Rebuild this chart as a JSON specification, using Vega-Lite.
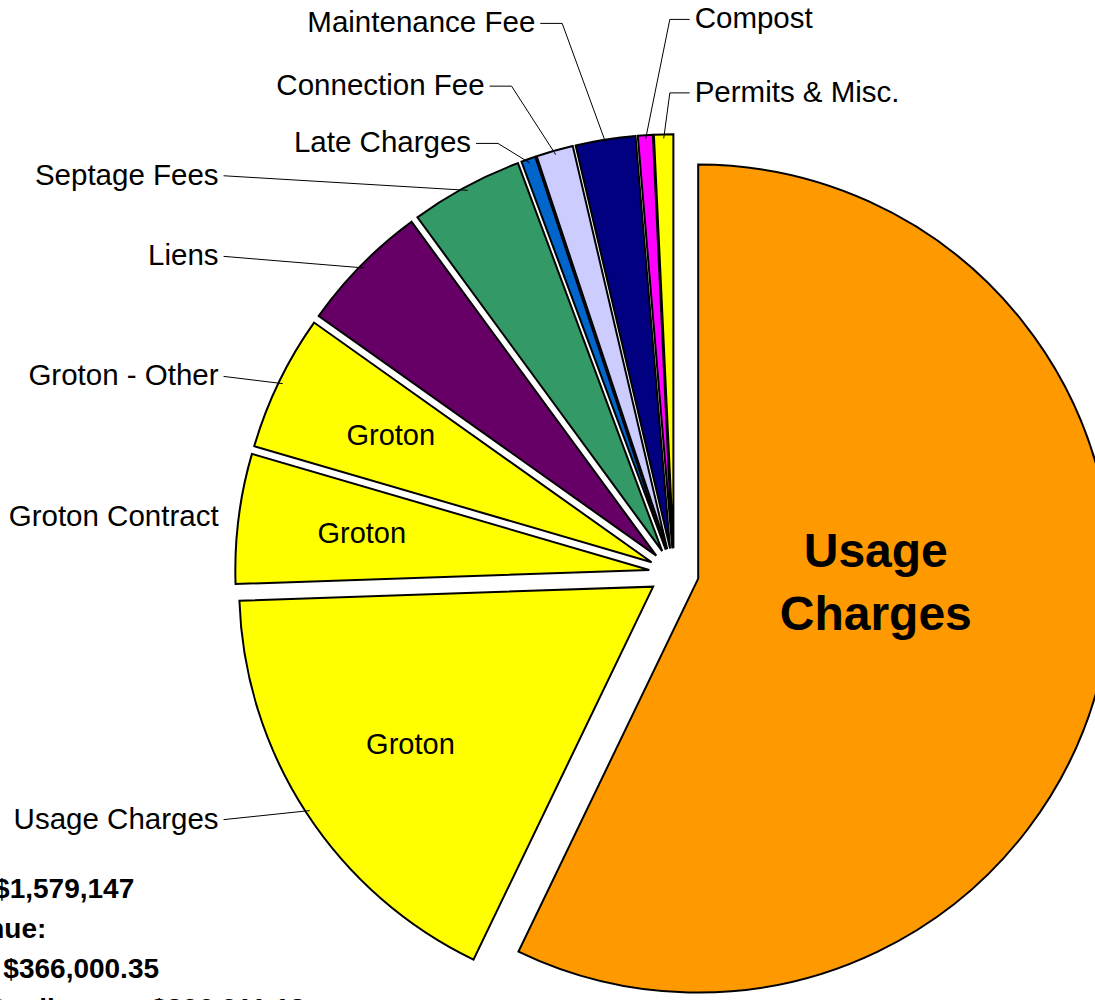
{
  "$schema": "https://vega.github.io/schema/vega-lite/v6.json",
  "width": 1095,
  "height": 1000,
  "autosize": {"type": "none"},
  "padding": 0,
  "config": {"font": "Liberation Sans", "view": {"stroke": null}},
  "title": {
    "text": ["Total revenue: $1,579,147", "Groton's Revenue:", "Total Groton:\u00a0\u00a0\u00a0\u00a0$366,000.35", "Total Groton after liens:\u00a0\u00a0\u00a0\u00a0\u00a0$306,011.13"],
    "orient": "bottom",
    "anchor": "start",
    "frame": "group",
    "offset": -102,
    "dx": -203,
    "baseline": "alphabetic",
    "fontSize": 28,
    "fontWeight": "bold",
    "lineHeight": 40,
    "color": "black",
    "font": "Liberation Sans"
  },
  "data": {
    "values": [
      {"category": "Usage Charges", "inner": "Usage Charges", "share": 57.1},
      {"category": "Groton Usage Charges", "label": "Usage Charges", "inner": "Groton", "share": 17.3},
      {"category": "Groton Contract", "label": "Groton Contract", "inner": "Groton", "share": 5.06},
      {"category": "Groton - Other", "label": "Groton - Other", "inner": "Groton", "share": 5.3},
      {"category": "Liens", "label": "Liens", "share": 5.1},
      {"category": "Septage Fees", "label": "Septage Fees", "share": 4.4},
      {"category": "Late Charges", "label": "Late Charges", "share": 0.56},
      {"category": "Connection Fee", "label": "Connection Fee", "share": 1.44},
      {"category": "Maintenance Fee", "label": "Maintenance Fee", "share": 2.33},
      {"category": "Compost", "label": "Compost", "share": 0.58},
      {"category": "Permits & Misc.", "label": "Permits & Misc.", "share": 0.75}
    ]
  },
  "transform": [
    {"window": [{"op": "sum", "field": "share", "as": "cum"}], "frame": [null, 0], "ignorePeers": true},
    {"joinaggregate": [{"op": "sum", "field": "share", "as": "total"}]},
    {"calculate": "2*PI*(datum.cum - datum.share)/datum.total", "as": "a0"},
    {"calculate": "2*PI*datum.cum/datum.total", "as": "a1"},
    {"calculate": "(datum.a0 + datum.a1)/2", "as": "m"},
    {"calculate": "datum.m*180/PI", "as": "mdeg"},
    {"calculate": "datum.mdeg < 180 ? 'I' : datum.mdeg < 335 ? 'L' : datum.mdeg < 355 ? 'T' : 'R'", "as": "zone"},
    {"calculate": "0.06*sin(datum.m)", "as": "ex"},
    {"calculate": "0.06*cos(datum.m)", "as": "ey"},
    {"window": [{"op": "row_number", "as": "rn"}], "groupby": ["zone"], "sort": [{"field": "m", "order": "ascending"}]},
    {"joinaggregate": [{"op": "count", "as": "zc"}], "groupby": ["zone"]},
    {"calculate": "datum.zone == 'T' ? datum.rn - 1 : datum.zone == 'R' ? datum.zc - datum.rn : 0", "as": "k"},
    {"calculate": "datum.zone == 'T' ? 1.1 + 0.122*datum.k : datum.zone == 'R' ? 1.16 + 0.18*datum.k : 1.09", "as": "rl"},
    {"calculate": "datum.rl*cos(datum.m)", "as": "ty"},
    {"calculate": "datum.zone == 'L' ? -1.1 : datum.zone == 'T' ? datum.rl*sin(datum.m) - 0.125 : 0.05", "as": "tx"},
    {"calculate": "datum.zone == 'R' ? datum.tx - 0.012 : datum.tx + 0.012", "as": "p0x"},
    {"calculate": "datum.zone == 'L' ? datum.p0x : datum.zone == 'T' ? datum.tx + 0.065 : datum.tx - 0.06", "as": "p1x"},
    {"calculate": "1.05*sin(datum.m)", "as": "p2x"},
    {"calculate": "1.05*cos(datum.m)", "as": "p2y"},
    {"calculate": "sqrt(pow(datum.p2x - datum.p0x, 2) + pow(datum.p2y - datum.ty, 2))", "as": "len"},
    {"calculate": "datum.zone == 'I' ? 0.5 : 0.76", "as": "ir"},
    {"calculate": "datum.ir*sin(datum.m)", "as": "gx"},
    {"calculate": "datum.ir*cos(datum.m)", "as": "gy"}
  ],
  "layer": [
    {
      "mark": {"type": "arc", "outerRadius": 414, "stroke": "black", "strokeWidth": 2},
      "encoding": {
        "x": {"field": "ex", "type": "quantitative", "scale": {"domain": [-1.628, 1.017], "nice": false, "zero": false}, "axis": null},
        "y": {"field": "ey", "type": "quantitative", "scale": {"domain": [-1.031, 1.384], "nice": false, "zero": false}, "axis": null},
        "theta": {"field": "a0", "type": "quantitative", "scale": null, "stack": null},
        "theta2": {"field": "a1"},
        "color": {
          "field": "category",
          "type": "nominal",
          "scale": {
            "domain": ["Usage Charges", "Groton Usage Charges", "Groton Contract", "Groton - Other", "Liens", "Septage Fees", "Late Charges", "Connection Fee", "Maintenance Fee", "Compost", "Permits & Misc."],
            "range": ["#FF9900", "#FFFF00", "#FFFF00", "#FFFF00", "#660066", "#339966", "#0066CC", "#CCCCFF", "#000080", "#FF00FF", "#FFFF00"]
          },
          "legend": null
        }
      }
    },
    {
      "transform": [{"filter": "datum.label != null && datum.len > 0.08"}],
      "mark": {"type": "rule", "stroke": "black", "strokeWidth": 1},
      "encoding": {
        "x": {"field": "p0x", "type": "quantitative", "scale": {"domain": [-1.628, 1.017], "nice": false, "zero": false}, "axis": null},
        "y": {"field": "ty", "type": "quantitative", "scale": {"domain": [-1.031, 1.384], "nice": false, "zero": false}, "axis": null},
        "x2": {"field": "p1x"},
        "y2": {"field": "ty"}
      }
    },
    {
      "transform": [{"filter": "datum.label != null && datum.len > 0.08"}],
      "mark": {"type": "rule", "stroke": "black", "strokeWidth": 1},
      "encoding": {
        "x": {"field": "p1x", "type": "quantitative", "scale": {"domain": [-1.628, 1.017], "nice": false, "zero": false}, "axis": null},
        "y": {"field": "ty", "type": "quantitative", "scale": {"domain": [-1.031, 1.384], "nice": false, "zero": false}, "axis": null},
        "x2": {"field": "p2x"},
        "y2": {"field": "p2y"}
      }
    },
    {
      "transform": [{"filter": "datum.label != null && datum.zone != 'R'"}],
      "mark": {"type": "text", "align": "right", "baseline": "middle", "fontSize": 29.5, "color": "black"},
      "encoding": {
        "x": {"field": "tx", "type": "quantitative", "scale": {"domain": [-1.628, 1.017], "nice": false, "zero": false}, "axis": null},
        "y": {"field": "ty", "type": "quantitative", "scale": {"domain": [-1.031, 1.384], "nice": false, "zero": false}, "axis": null},
        "text": {"field": "label"}
      }
    },
    {
      "transform": [{"filter": "datum.label != null && datum.zone == 'R'"}],
      "mark": {"type": "text", "align": "left", "baseline": "middle", "fontSize": 29.5, "color": "black"},
      "encoding": {
        "x": {"field": "tx", "type": "quantitative", "scale": {"domain": [-1.628, 1.017], "nice": false, "zero": false}, "axis": null},
        "y": {"field": "ty", "type": "quantitative", "scale": {"domain": [-1.031, 1.384], "nice": false, "zero": false}, "axis": null},
        "text": {"field": "label"}
      }
    },
    {
      "transform": [{"filter": "datum.inner != null && datum.zone != 'I'"}],
      "mark": {"type": "text", "align": "center", "baseline": "middle", "fontSize": 29, "color": "black"},
      "encoding": {
        "x": {"field": "gx", "type": "quantitative", "scale": {"domain": [-1.628, 1.017], "nice": false, "zero": false}, "axis": null},
        "y": {"field": "gy", "type": "quantitative", "scale": {"domain": [-1.031, 1.384], "nice": false, "zero": false}, "axis": null},
        "text": {"field": "inner"}
      }
    },
    {
      "transform": [{"filter": "datum.inner != null && datum.zone == 'I'"}],
      "mark": {"type": "text", "align": "center", "baseline": "middle", "fontSize": 48, "fontWeight": "bold", "lineBreak": " ", "lineHeight": 63, "dy": -66, "color": "black"},
      "encoding": {
        "x": {"field": "gx", "type": "quantitative", "scale": {"domain": [-1.628, 1.017], "nice": false, "zero": false}, "axis": null},
        "y": {"field": "gy", "type": "quantitative", "scale": {"domain": [-1.031, 1.384], "nice": false, "zero": false}, "axis": null},
        "text": {"field": "inner"}
      }
    }
  ]
}
